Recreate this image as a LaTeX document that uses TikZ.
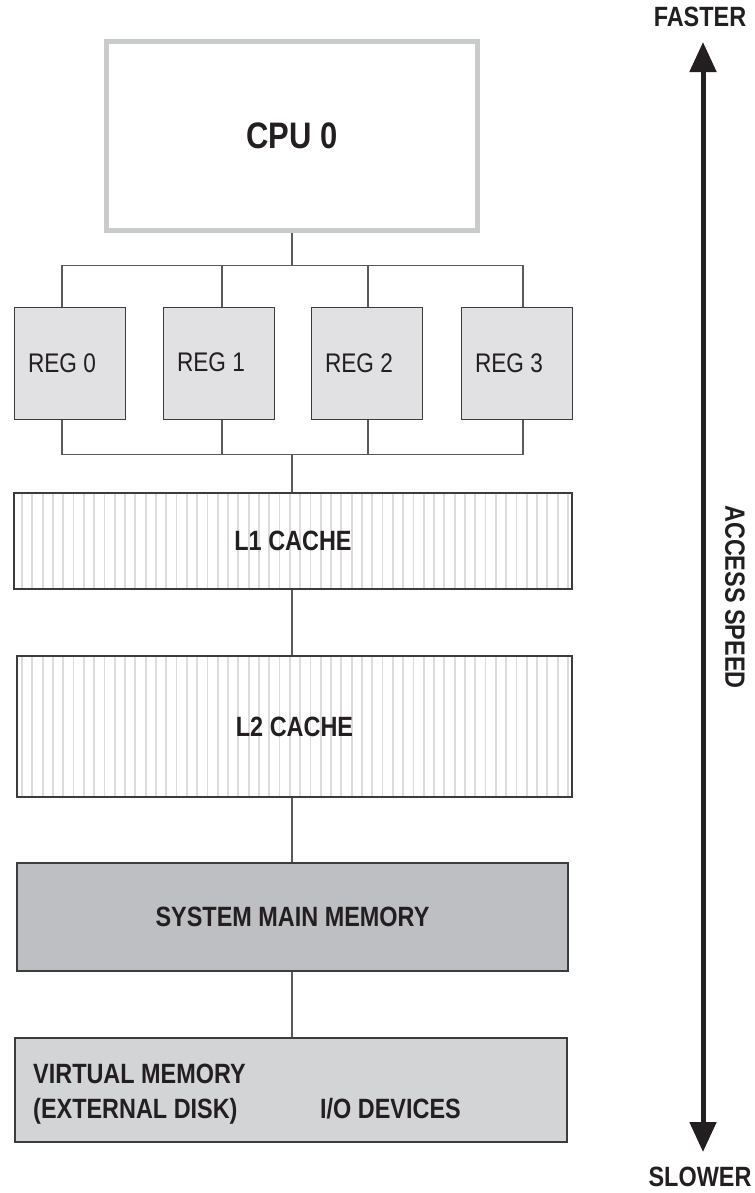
\documentclass[tikz,border=0pt]{standalone}
\usepackage{fontspec}
\setmainfont{Liberation Sans}[FakeStretch=0.84]
\usetikzlibrary{arrows.meta}
\definecolor{ink}{HTML}{231F20}
\definecolor{boxline}{HTML}{3C3C3C}
\definecolor{busline}{HTML}{5A5A5A}
\definecolor{cpuedge}{HTML}{C9CACC}
\definecolor{regfill}{HTML}{E1E1E3}
\definecolor{smmfill}{HTML}{BEBFC3}
\definecolor{vmfill}{HTML}{D3D4D6}
\definecolor{hatchgray}{HTML}{DCDCDC}
\begin{document}
\begin{tikzpicture}[x=1bp,y=-1bp,
  every node/.style={text=ink},
  lbl/.style={font=\bfseries\fontsize{28}{30}\selectfont},
  reglbl/.style={font=\fontsize{27}{30}\selectfont},
  box/.style={draw=boxline, line width=1.6bp, inner sep=0pt, rectangle},
  cpubox/.style={draw=cpuedge, line width=5bp, fill=white, inner sep=0pt, rectangle,
     font=\bfseries\fontsize{37}{40}\selectfont},
  regbox/.style={box, fill=regfill, minimum width=111bp, minimum height=112bp, reglbl},
  bus/.style={draw=busline, line width=1.4bp},
  hatchline/.style={draw=hatchgray, line width=1.8bp},
  speedarrow/.style={draw=ink, line width=5bp, {Triangle[length=30bp,width=26bp]}-{Triangle[length=30bp,width=26bp]}}
]
\useasboundingbox (0,0) rectangle (755,1193);

% CPU
\node[cpubox, minimum width=371bp, minimum height=189bp] (cpu) at (292,136) {CPU 0};

% registers
\node[regbox] (r0) at (70,363.5)  {\hspace*{-16bp}REG 0};
\node[regbox] (r1) at (219,363.5) {\hspace*{-16bp}\raisebox{2bp}{REG 1}};
\node[regbox] (r2) at (367,363.5) {\hspace*{-16bp}REG 2};
\node[regbox] (r3) at (517,363.5) {\hspace*{-16bp}REG 3};

% buses
\coordinate (bt) at (292,266);
\coordinate (bb) at (292,454);
\draw[bus] (cpu.south) -- (bt);
\draw[bus] ([xshift=-8bp]r0.north) -- ++(0,-41) -| ([xshift=6bp]r3.north);
\draw[bus] ([xshift=3bp]r1.north) -- ++(0,-41);
\draw[bus] ([xshift=1bp]r2.north) -- ++(0,-41);
\draw[bus] ([xshift=-8bp]r0.south) -- ++(0,34) -| ([xshift=6bp]r3.south);
\draw[bus] ([xshift=3bp]r1.south) -- ++(0,34);
\draw[bus] ([xshift=1bp]r2.south) -- ++(0,34);

% caches (hatched)
\begin{scope}
  \clip (13,492) rectangle (573,590);
  \foreach \i in {0,...,54} { \draw[hatchline] ({22+10.3*\i},492) -- ({22+10.3*\i},590); }
\end{scope}
\begin{scope}
  \clip (16,655) rectangle (573,798);
  \foreach \i in {0,...,54} { \draw[hatchline] ({22+10.3*\i},655) -- ({22+10.3*\i},798); }
\end{scope}
\node[box, minimum width=558bp, minimum height=96bp, lbl] (l1) at (293,541) {L1 CACHE};
\node[box, minimum width=555bp, minimum height=141bp, lbl] (l2) at (294.5,726.5) {L2 CACHE};

% main memory
\node[box, fill=smmfill, minimum width=551bp, minimum height=108bp, lbl] (smm) at (292.5,917) {SYSTEM MAIN MEMORY};

% virtual memory
\node[box, fill=vmfill, minimum width=552bp, minimum height=104bp] (vm) at (291,1090) {};
\node[lbl, anchor=base west, inner sep=0pt] (vm1) at (33,1083) {VIRTUAL MEMORY};
\node[lbl, anchor=base west, inner sep=0pt] (vm2) at (33,1118) {(EXTERNAL DISK)};
\node[lbl, anchor=base west, inner sep=0pt] (io) at (320,1118) {I/O DEVICES};

% connectors
\draw[bus] (bb) -- (bb |- l1.north);
\draw[bus] (l1.south -| bb) -- (l2.north -| bb);
\draw[bus] (l2.south -| bb) -- (smm.north -| bb);
\draw[bus] (smm.south -| bb) -- (vm.north -| bb);

% access speed arrow
\coordinate (atop) at (703,42);
\coordinate (abot) at (703,1152);
\draw[speedarrow] (abot) -- (atop);
\node[lbl, inner sep=1pt] (fast) at (700,17) {FASTER};
\node[lbl, inner sep=1pt] (slow) at (700,1177) {SLOWER};
\node[lbl, rotate=-90] (speed) at (735,597) {ACCESS SPEED};
\end{tikzpicture}
\end{document}
